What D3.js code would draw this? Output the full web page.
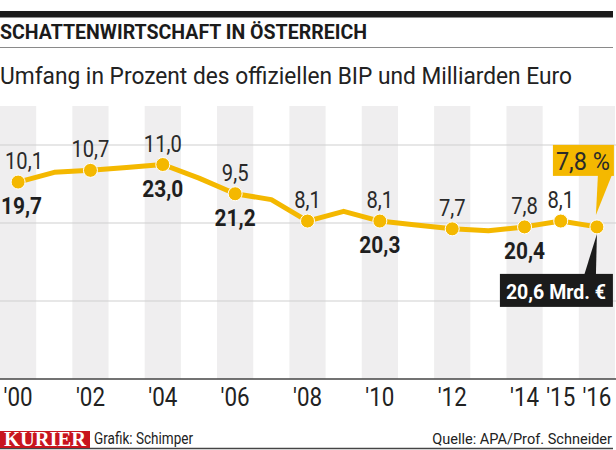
<!DOCTYPE html>
<html><head><meta charset="utf-8">
<script src="https://cdn.jsdelivr.net/npm/d3@7"></script>
<style>body{margin:0;background:#fff} svg{display:block}</style>
</head><body>
<svg id="c" width="616" height="450"></svg>
<script>
// ---------- data ----------
const years = [2000,2001,2002,2003,2004,2005,2006,2007,2008,2009,2010,2011,2012,2013,2014,2015,2016];
const sharePct = [10.1,10.6,10.7,10.85,11.0,10.3,9.5,9.2,8.1,8.6,8.1,7.9,7.7,7.6,7.8,8.1,7.8];
const markedYears = [2000,2002,2004,2006,2008,2010,2012,2014,2015,2016];
const euroYears = [2000,2004,2006,2010,2014];
const euroValues = [19.7,23.0,21.2,20.3,20.4];
const lastEuro = 20.6;
const tickYears = [2000,2002,2004,2006,2008,2010,2012,2014,2015,2016];
const tickLabels = ["'00","'02","'04","'06","'08","'10","'12","'14","'15","'16"];
const gridValues = [4,8,12];
const titleText = "SCHATTENWIRTSCHAFT IN ÖSTERREICH";
const subtitleText = "Umfang in Prozent des offiziellen BIP und Milliarden Euro";
const creditText = "Grafik: Schimper";
const sourceText = "Quelle: APA/Prof. Schneider";

// ---------- setup ----------
const FONT = "Roboto,'Liberation Sans','DejaVu Sans',sans-serif";
const YELLOW = "#f4b800";
const TXT = "#222";
const svg = d3.select("#c");
const fmt = v => d3.format(".1f")(v).replace(".", ",");
const valueOf = yr => sharePct[years.indexOf(yr)];

// condense glyphs horizontally (text stays real text)
function condense(sel, k) {
  sel.each(function () {
    const w = this.getComputedTextLength();
    d3.select(this).attr("textLength", w * k).attr("lengthAdjust", "spacingAndGlyphs");
  });
  return sel;
}
// choose a font size so the natural width is target/k, then squeeze to target
function fitSize(sel, target, k) {
  const fs = parseFloat(sel.attr("font-size"));
  const w = sel.node().getComputedTextLength();
  sel.attr("font-size", fs * (target / k) / w);
  if (k < 1) sel.attr("textLength", target).attr("lengthAdjust", "spacingAndGlyphs");
  return sel;
}

const x = d3.scaleBand().domain(years).range([0, 615]).padding(0);
const cx = yr => x(yr) + x.bandwidth() / 2;
const y = d3.scaleLinear().domain([0, 12]).range([379, 145]);

// header
svg.append("rect").attr("x", 0).attr("y", 11).attr("width", 613).attr("height", 6.5).attr("fill", "#1b1b1b");
fitSize(svg.append("text").attr("x", 0).attr("y", 39)
  .attr("font-family", FONT).attr("font-weight", "bold").attr("font-size", 20)
  .attr("fill", "#1b1b1b").text(titleText), 367, 0.97);
svg.append("line").attr("x1", 0).attr("x2", 613).attr("y1", 47.5).attr("y2", 47.5)
  .attr("stroke", "#8a8a8a").attr("stroke-width", 1.2);
fitSize(svg.append("text").attr("x", 0).attr("y", 84)
  .attr("font-family", FONT).attr("font-size", 26).attr("fill", TXT).text(subtitleText), 572, 0.95);

// stripes
svg.append("g").selectAll("rect").data(years.filter(d => d % 2 === 0)).join("rect")
  .attr("x", d => x(d)).attr("width", x.bandwidth())
  .attr("y", 106).attr("height", y(0) - 106)
  .attr("fill", "#efeeef");

// gridlines
svg.append("g").selectAll("line").data(gridValues).join("line")
  .attr("x1", 0).attr("x2", 616).attr("y1", d => y(d)).attr("y2", d => y(d))
  .attr("stroke", "#cfcfcf").attr("stroke-width", 1);

// axis line
svg.append("line").attr("x1", 0).attr("x2", 616).attr("y1", y(0)).attr("y2", y(0))
  .attr("stroke", "#444").attr("stroke-width", 1.5);

// x tick labels
condense(svg.append("g").selectAll("text").data(tickYears).join("text")
  .attr("x", d => cx(d)).attr("y", 406).attr("text-anchor", "middle")
  .attr("font-family", FONT).attr("font-size", 26).attr("fill", TXT)
  .text((d, i) => tickLabels[i]), 0.86);

// line
const line = d3.line().x((d, i) => cx(years[i])).y(d => y(d));
svg.append("path").datum(sharePct).attr("d", line)
  .attr("fill", "none").attr("stroke", YELLOW).attr("stroke-width", 5)
  .attr("stroke-linejoin", "round").attr("stroke-linecap", "round");

// dots
svg.append("g").selectAll("circle").data(markedYears).join("circle")
  .attr("cx", d => cx(d)).attr("cy", d => y(valueOf(d))).attr("r", 7)
  .attr("fill", YELLOW).attr("stroke", "#fff").attr("stroke-width", 1);

// percent labels
condense(svg.append("g").selectAll("text").data(markedYears.slice(0, -1)).join("text")
  .attr("x", d => d === 2000 ? 5 : cx(d))
  .attr("y", d => y(valueOf(d)) - 13)
  .attr("text-anchor", d => d === 2000 ? "start" : "middle")
  .attr("font-family", FONT).attr("font-size", 24).attr("fill", "#2a2a2a")
  .text(d => fmt(valueOf(d))), 0.84);

// euro labels
condense(svg.append("g").selectAll("text").data(euroYears).join("text")
  .attr("x", d => d === 2000 ? 1 : cx(d))
  .attr("y", d => y(valueOf(d)) + 32)
  .attr("text-anchor", d => d === 2000 ? "start" : "middle")
  .attr("font-family", FONT).attr("font-weight", "bold").attr("font-size", 24).attr("fill", "#1e1e1e")
  .text((d, i) => fmt(euroValues[i])), 0.87);

// callouts for 2016
const lastYear = years[years.length - 1];
const px = cx(lastYear), py = y(valueOf(lastYear));
const gy = svg.append("g");
gy.append("rect").attr("x", px - 44).attr("y", py - 82).attr("width", 61).attr("height", 31).attr("fill", YELLOW);
gy.append("path").attr("d", `M${px + 1},${py - 52}L${px + 15},${py - 52}L${px - 1},${py - 12}Z`).attr("fill", YELLOW);
fitSize(gy.append("text").attr("x", px - 14).attr("y", py - 57).attr("text-anchor", "middle")
  .attr("font-family", FONT).attr("font-size", 24).attr("fill", "#2a2a2a")
  .text(fmt(valueOf(lastYear)) + " %"), 54, 0.9);

const gb = svg.append("g");
gb.append("path").attr("d", `M${px},${py + 7}L${px - 13},${py + 49}L${px - 1},${py + 49}Z`).attr("fill", "#1b1b1b");
gb.append("rect").attr("x", px - 97).attr("y", py + 47).attr("width", 113).attr("height", 33).attr("fill", "#1b1b1b");
fitSize(gb.append("text").attr("x", px - 41).attr("y", py + 72).attr("text-anchor", "middle")
  .attr("font-family", FONT).attr("font-weight", "bold").attr("font-size", 24).attr("fill", "#fff")
  .text(fmt(lastEuro) + " Mrd. €"), 100, 0.95);

// footer
svg.append("line").attr("x1", 0).attr("x2", 613).attr("y1", 448.5).attr("y2", 448.5)
  .attr("stroke", "#444").attr("stroke-width", 1.3);
svg.append("rect").attr("x", 0).attr("y", 431).attr("width", 90).attr("height", 17).attr("fill", "#c8151e");
fitSize(svg.append("text").attr("x", 45).attr("y", 445.5).attr("text-anchor", "middle")
  .attr("font-family", "'Liberation Serif','DejaVu Serif',serif").attr("font-weight", "bold")
  .attr("font-size", 17).attr("fill", "#fff").text("KURIER"), 82, 0.95);
fitSize(svg.append("text").attr("x", 94).attr("y", 444)
  .attr("font-family", FONT).attr("font-size", 18).attr("fill", TXT).text(creditText), 99, 0.85);
fitSize(svg.append("text").attr("x", 612).attr("y", 444).attr("text-anchor", "end")
  .attr("font-family", FONT).attr("font-size", 18).attr("fill", TXT).text(sourceText), 180, 1);
</script>
</body></html>
